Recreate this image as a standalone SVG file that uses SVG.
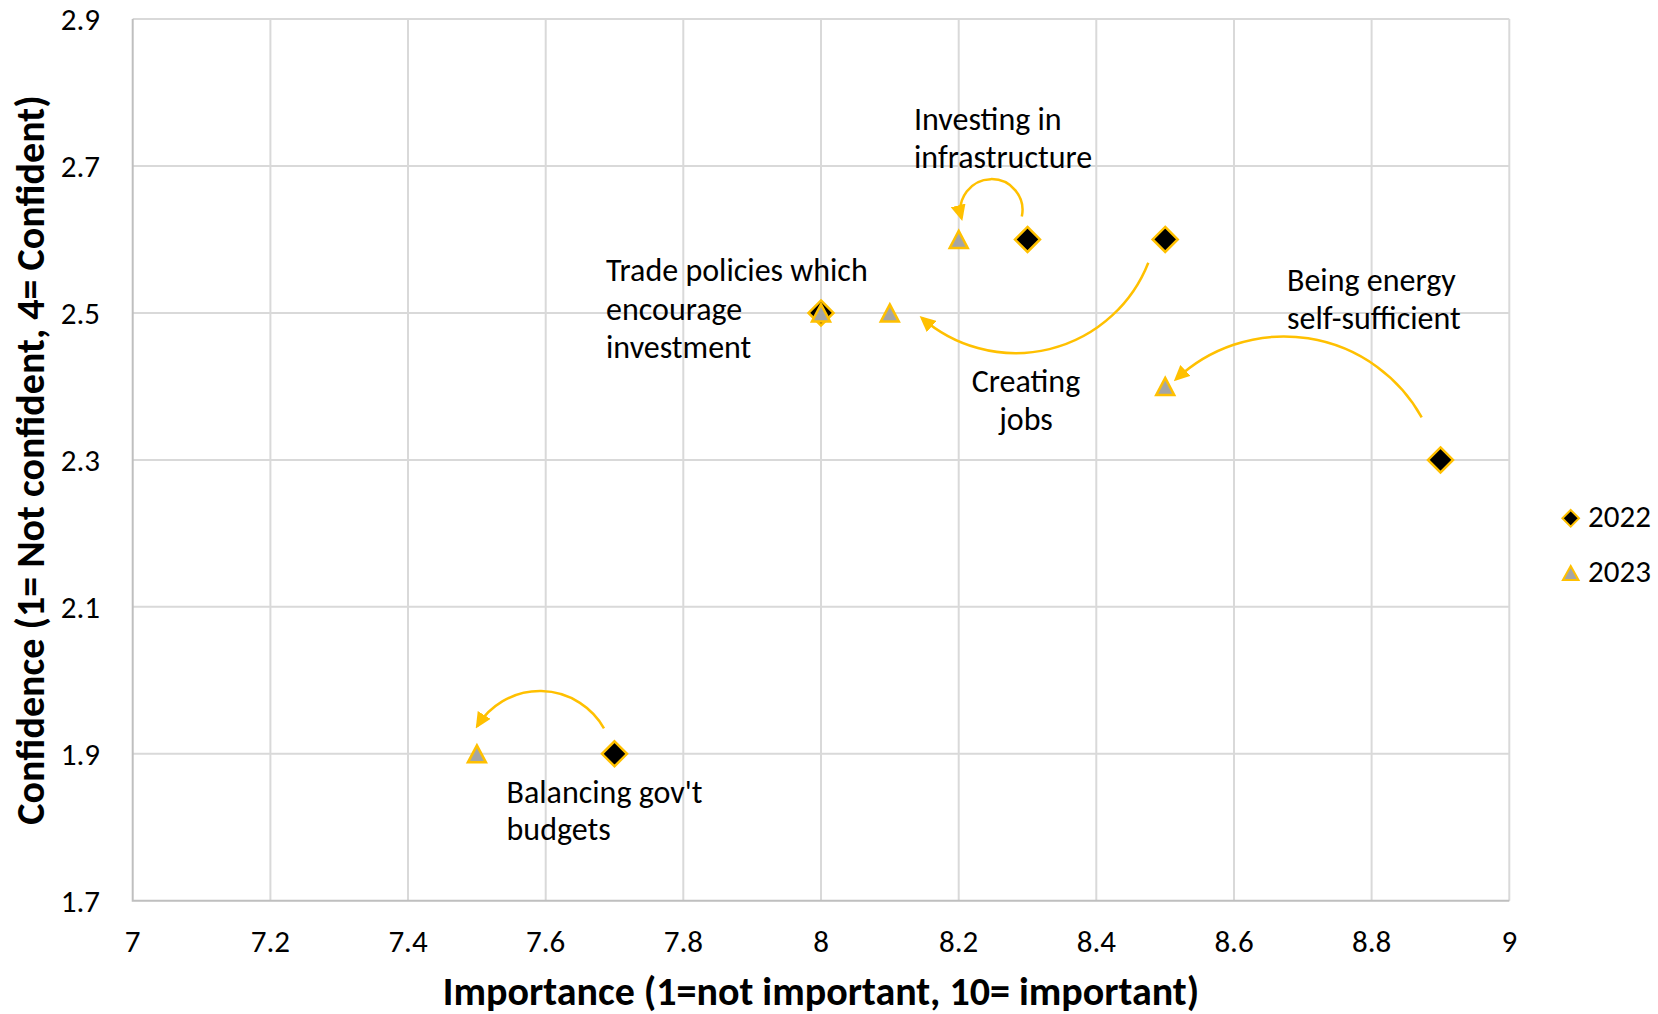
<svg xmlns="http://www.w3.org/2000/svg" xmlns:xlink="http://www.w3.org/1999/xlink" width="1658" height="1014" viewBox="0 0 1658 1014">
<style>
.grid{stroke:#d9d9d9;stroke-width:2;fill:none}
.axis{stroke:#bfbfbf;stroke-width:2;fill:none}
.tick{font-family:Carlito,Lato,"Liberation Sans",sans-serif;font-size:31px;fill:#000}
.lbl{font-family:Carlito,Lato,"Liberation Sans",sans-serif;font-size:32px;fill:#000}
.title{font-family:Carlito,Lato,"Liberation Sans",sans-serif;font-size:40px;font-weight:bold;fill:#000}
.arc{stroke:#ffc000;stroke-width:2.5;fill:none;marker-end:url(#ah)}
.d22{fill:#000;stroke:#ffc000;stroke-width:2.5}
.t23{fill:#a5a5a5;stroke:#ffc000;stroke-width:2.5;stroke-linejoin:miter}
</style>
<defs>
<marker id="ah" markerUnits="userSpaceOnUse" viewBox="0 0 16 15" markerWidth="16" markerHeight="15" refX="13" refY="7.5" orient="auto">
<path d="M0,0 L16,7.5 L0,15 z" fill="#ffc000"/>
</marker>
<polygon id="dia" points="0,-12.5 12.5,0 0,12.5 -12.5,0"/>
<polygon id="tri" points="0,-8.5 9,8.5 -9,8.5"/>
</defs>
<rect width="1658" height="1014" fill="#fff"/>
<g id="gridlines">
<path class="grid" d="M270.4,19V900.7M408,19V900.7M545.7,19V900.7M683.3,19V900.7M821,19V900.7M958.7,19V900.7M1096.3,19V900.7M1234,19V900.7M1371.6,19V900.7M1509.3,19V900.7"/>
<path class="grid" d="M132.7,19H1509.3M132.7,165.9H1509.3M132.7,312.9H1509.3M132.7,459.9H1509.3M132.7,606.8H1509.3M132.7,753.8H1509.3"/>
<path class="axis" d="M132.7,19V900.7H1509.3"/>
</g>
<g id="y-ticks" class="tick" text-anchor="end">
<text x="100" y="30">2.9</text>
<text x="100" y="177">2.7</text>
<text x="100" y="324">2.5</text>
<text x="100" y="471">2.3</text>
<text x="100" y="618">2.1</text>
<text x="100" y="765">1.9</text>
<text x="100" y="912">1.7</text>
</g>
<g id="x-ticks" class="tick" text-anchor="middle">
<text x="132.7" y="952">7</text>
<text x="270.4" y="952">7.2</text>
<text x="408" y="952">7.4</text>
<text x="545.7" y="952">7.6</text>
<text x="683.3" y="952">7.8</text>
<text x="821" y="952">8</text>
<text x="958.7" y="952">8.2</text>
<text x="1096.3" y="952">8.4</text>
<text x="1234" y="952">8.6</text>
<text x="1371.6" y="952">8.8</text>
<text x="1509.3" y="952">9</text>
</g>
<g id="axis-titles" class="title" text-anchor="middle">
<text x="821" y="1005">Importance (1=not important, 10= important)</text>
<text transform="translate(44,460) rotate(-90)">Confidence (1= Not confident, 4= Confident)</text>
</g>
<g id="connectors">
<path class="arc" d="M1021.8,216.6 A31,31 0 1 0 961.5,218"/>
<path class="arc" d="M1148.3,262.7 A142.5,142.5 0 0 1 921.9,318"/>
<path class="arc" d="M1421.7,417.3 A157.7,157.7 0 0 0 1176,379.3"/>
<path class="arc" d="M604,728.3 A73.7,73.7 0 0 0 477.3,726"/>
</g>
<g id="node-investing-infrastructure">
<use xlink:href="#dia" class="d22" x="1027.5" y="239.4"/>
<use xlink:href="#tri" class="t23" x="958.7" y="239.4"/>
<text class="lbl" x="914" y="130">Investing in</text>
<text class="lbl" x="914" y="168">infrastructure</text>
</g>
<g id="node-creating-jobs">
<use xlink:href="#dia" class="d22" x="1165.2" y="239.4"/>
<use xlink:href="#tri" class="t23" x="889.8" y="312.9"/>
<text class="lbl" x="1026" y="391.5" text-anchor="middle">Creating</text>
<text class="lbl" x="1026" y="430" text-anchor="middle">jobs</text>
</g>
<g id="node-trade-policies">
<use xlink:href="#dia" class="d22" x="821" y="312.9"/>
<use xlink:href="#tri" class="t23" x="821" y="312.9"/>
<text class="lbl" x="606" y="281">Trade policies which</text>
<text class="lbl" x="606" y="319.5">encourage</text>
<text class="lbl" x="606" y="357.5">investment</text>
</g>
<g id="node-energy">
<use xlink:href="#dia" class="d22" x="1440.5" y="459.9"/>
<use xlink:href="#tri" class="t23" x="1165.2" y="386.4"/>
<text class="lbl" x="1287" y="290.5">Being energy</text>
<text class="lbl" x="1287" y="328.5">self-sufficient</text>
</g>
<g id="node-balancing">
<use xlink:href="#dia" class="d22" x="614.5" y="753.8"/>
<use xlink:href="#tri" class="t23" x="476.9" y="753.8"/>
<text class="lbl" x="506.5" y="803">Balancing gov't</text>
<text class="lbl" x="506.5" y="839.5">budgets</text>
</g>
<g id="legend">
<polygon points="1570.7,510 1579,518.3 1570.7,526.6 1562.4,518.3" fill="#000" stroke="#ffc000" stroke-width="2"/>
<text class="tick" x="1588" y="527">2022</text>
<polygon points="1570.7,566 1578.5,580 1562.9,580" fill="#a5a5a5" stroke="#ffc000" stroke-width="2"/>
<text class="tick" x="1588" y="582">2023</text>
</g>
</svg>
